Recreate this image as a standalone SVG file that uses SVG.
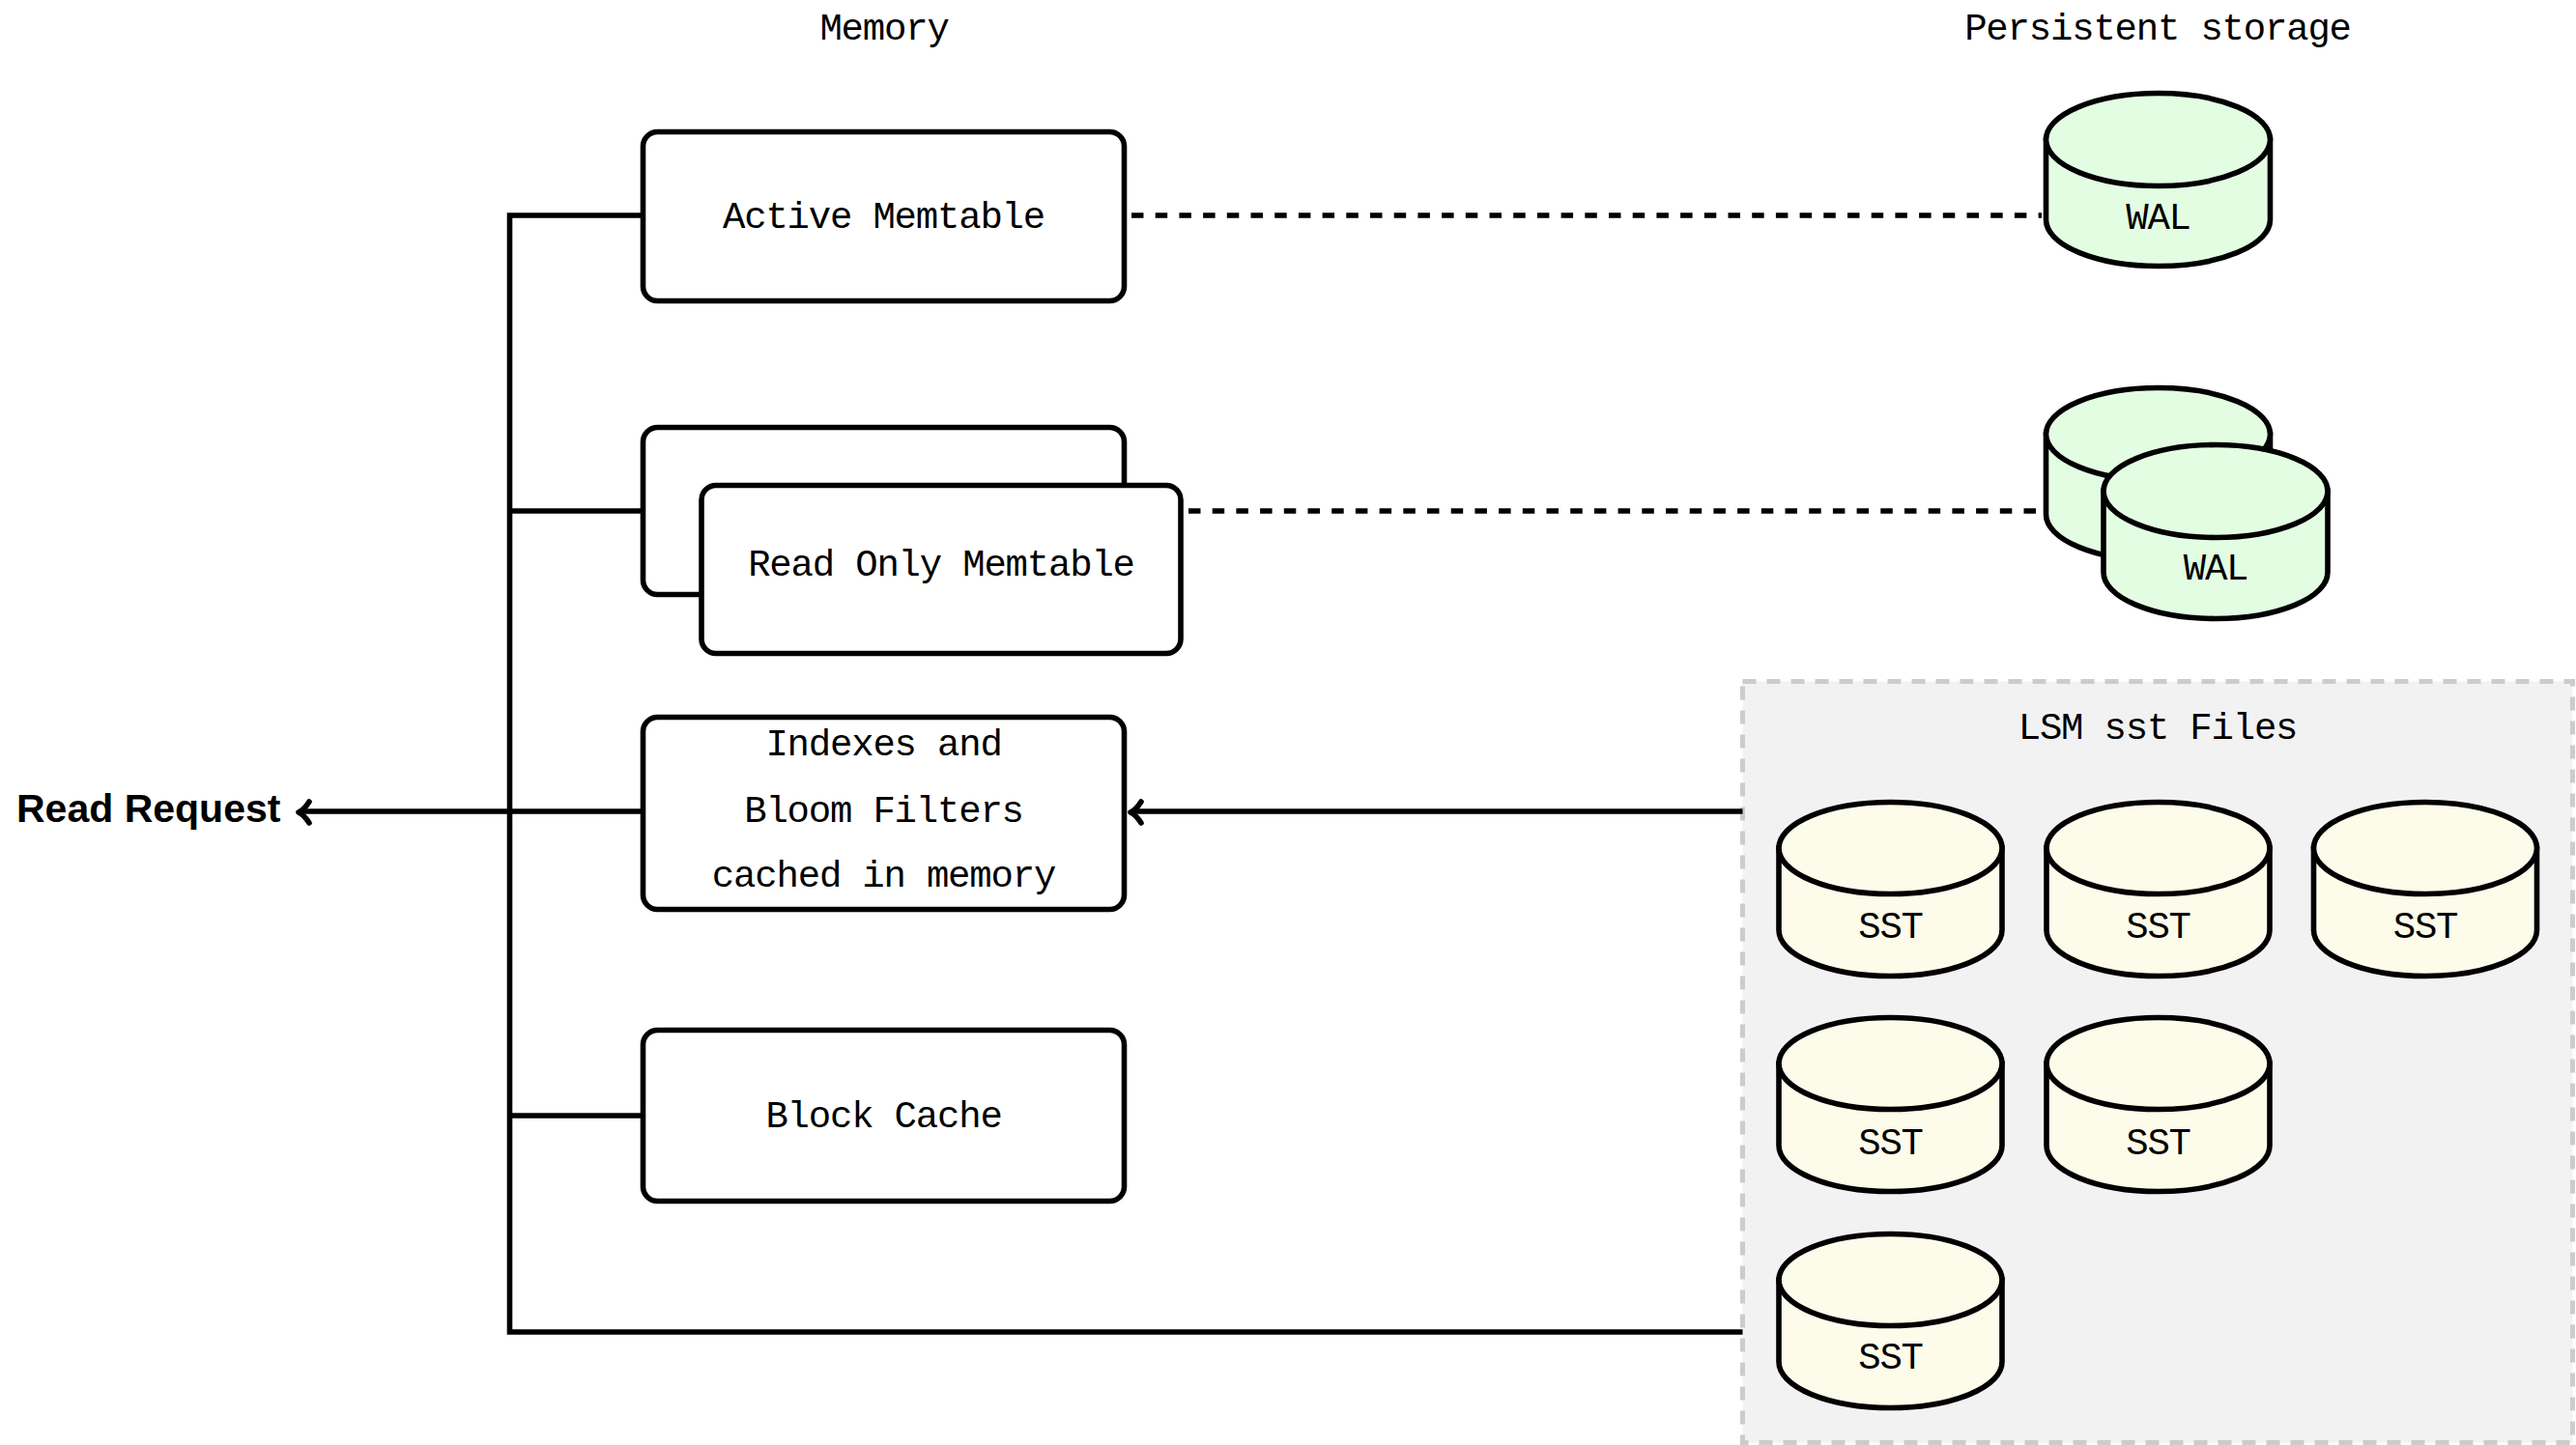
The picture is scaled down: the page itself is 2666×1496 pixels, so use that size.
<svg xmlns="http://www.w3.org/2000/svg" width="2666" height="1496" viewBox="0 0 2666 1496">
<style>
.box{fill:#ffffff;stroke:#000;stroke-width:5.6}
.t{font-family:"Liberation Mono","DejaVu Sans Mono",monospace;font-size:39px;letter-spacing:-1.2px;text-anchor:middle;fill:#000}
.ln{fill:none;stroke:#000;stroke-width:5.6}
.dash{fill:none;stroke:#000;stroke-width:5.6;stroke-dasharray:12.5 12.2}
.arr{fill:none;stroke:#000;stroke-width:5.6;stroke-linecap:round;stroke-linejoin:round}
.wal{fill:#e3fde3;stroke:#000;stroke-width:5.6}
.sst{fill:#fdfbea;stroke:#000;stroke-width:5.6}
</style>
<rect width="2666" height="1496" fill="#ffffff"/>

<g id="lsm-group">
<rect x="1803.5" y="705.5" width="859" height="788" fill="#f2f2f2" stroke="#cccccc" stroke-width="5" stroke-dasharray="14 11"/>
<text class="t" x="2233" y="765">LSM sst Files</text>
</g>

<g id="labels">
<text class="t" x="915" y="41">Memory</text>
<text class="t" x="2233" y="41">Persistent storage</text>
</g>

<g id="connectors">
<path class="ln" d="M665.5 223 H527.5 V1379 H1803.5"/>
<path class="ln" d="M527.5 529 H665.5"/>
<path class="ln" d="M527.5 1155 H665.5"/>
<path class="ln" d="M665.5 840 H311"/>
<path class="arr" d="M320 830 Q315 838 309 841 Q315 844 320 852"/>
<path class="ln" d="M1803.5 840 H1172"/>
<path class="arr" d="M1181 830 Q1176 838 1170 841 Q1176 844 1181 852"/>
<path class="dash" d="M1171 223 H2113"/>
<path class="dash" d="M1230 529 H2113"/>
</g>

<g id="read-request">
<text x="17" y="851" font-family="Liberation Sans, Arial, sans-serif" font-weight="bold" font-size="41" fill="#000">Read Request</text>
</g>

<g id="active-memtable">
<rect class="box" x="665.5" y="136.5" width="498" height="175" rx="15"/>
<text class="t" x="914.5" y="236">Active Memtable</text>
</g>

<g id="read-only-memtable">
<rect class="box" x="665.5" y="442.5" width="498" height="173" rx="15"/>
<rect class="box" x="726" y="502.5" width="496" height="174" rx="15"/>
<text class="t" x="974" y="596">Read Only Memtable</text>
</g>

<g id="indexes">
<rect class="box" x="665.5" y="742.5" width="498" height="199" rx="15"/>
<text class="t" x="914.5" y="782">Indexes and</text>
<text class="t" x="914.5" y="851">Bloom Filters</text>
<text class="t" x="914.5" y="918">cached in memory</text>
</g>

<g id="block-cache">
<rect class="box" x="665.5" y="1066.5" width="498" height="177" rx="15"/>
<text class="t" x="914.5" y="1167">Block Cache</text>
</g>

<g id="wal-1">
<path class="wal" d="M2117.5 144.5 V227.5 A116 48 0 0 0 2349.5 227.5 V144.5 Z"/>
<ellipse class="wal" cx="2233.5" cy="144.5" rx="116" ry="48"/>
<text class="t" x="2233.5" y="237">WAL</text>
</g>

<g id="wal-2">
<path class="wal" d="M2117.5 449.5 V532.5 A116 48 0 0 0 2349.5 532.5 V449.5 Z"/>
<ellipse class="wal" cx="2233.5" cy="449.5" rx="116" ry="48"/>
<path class="wal" d="M2177 508.5 V592.5 A116 48 0 0 0 2409 592.5 V508.5 Z"/>
<ellipse class="wal" cx="2293" cy="508.5" rx="116" ry="48"/>
<text class="t" x="2293" y="600">WAL</text>
</g>

<g id="sst-1">
<path class="sst" d="M1841 878 V963 A115.5 47.5 0 0 0 2072 963 V878 Z"/>
<ellipse class="sst" cx="1956.5" cy="878" rx="115.5" ry="47.5"/>
<text class="t" x="1956.5" y="971">SST</text>
</g>
<g id="sst-2">
<path class="sst" d="M2118 878 V963 A115.5 47.5 0 0 0 2349 963 V878 Z"/>
<ellipse class="sst" cx="2233.5" cy="878" rx="115.5" ry="47.5"/>
<text class="t" x="2233.5" y="971">SST</text>
</g>
<g id="sst-3">
<path class="sst" d="M2394.5 878 V963 A115.5 47.5 0 0 0 2625.5 963 V878 Z"/>
<ellipse class="sst" cx="2510" cy="878" rx="115.5" ry="47.5"/>
<text class="t" x="2510" y="971">SST</text>
</g>
<g id="sst-4">
<path class="sst" d="M1841 1101 V1186 A115.5 47.5 0 0 0 2072 1186 V1101 Z"/>
<ellipse class="sst" cx="1956.5" cy="1101" rx="115.5" ry="47.5"/>
<text class="t" x="1956.5" y="1195">SST</text>
</g>
<g id="sst-5">
<path class="sst" d="M2118 1101 V1186 A115.5 47.5 0 0 0 2349 1186 V1101 Z"/>
<ellipse class="sst" cx="2233.5" cy="1101" rx="115.5" ry="47.5"/>
<text class="t" x="2233.5" y="1195">SST</text>
</g>
<g id="sst-6">
<path class="sst" d="M1841 1325 V1410 A115.5 47.5 0 0 0 2072 1410 V1325 Z"/>
<ellipse class="sst" cx="1956.5" cy="1325" rx="115.5" ry="47.5"/>
<text class="t" x="1956.5" y="1417">SST</text>
</g>
</svg>
